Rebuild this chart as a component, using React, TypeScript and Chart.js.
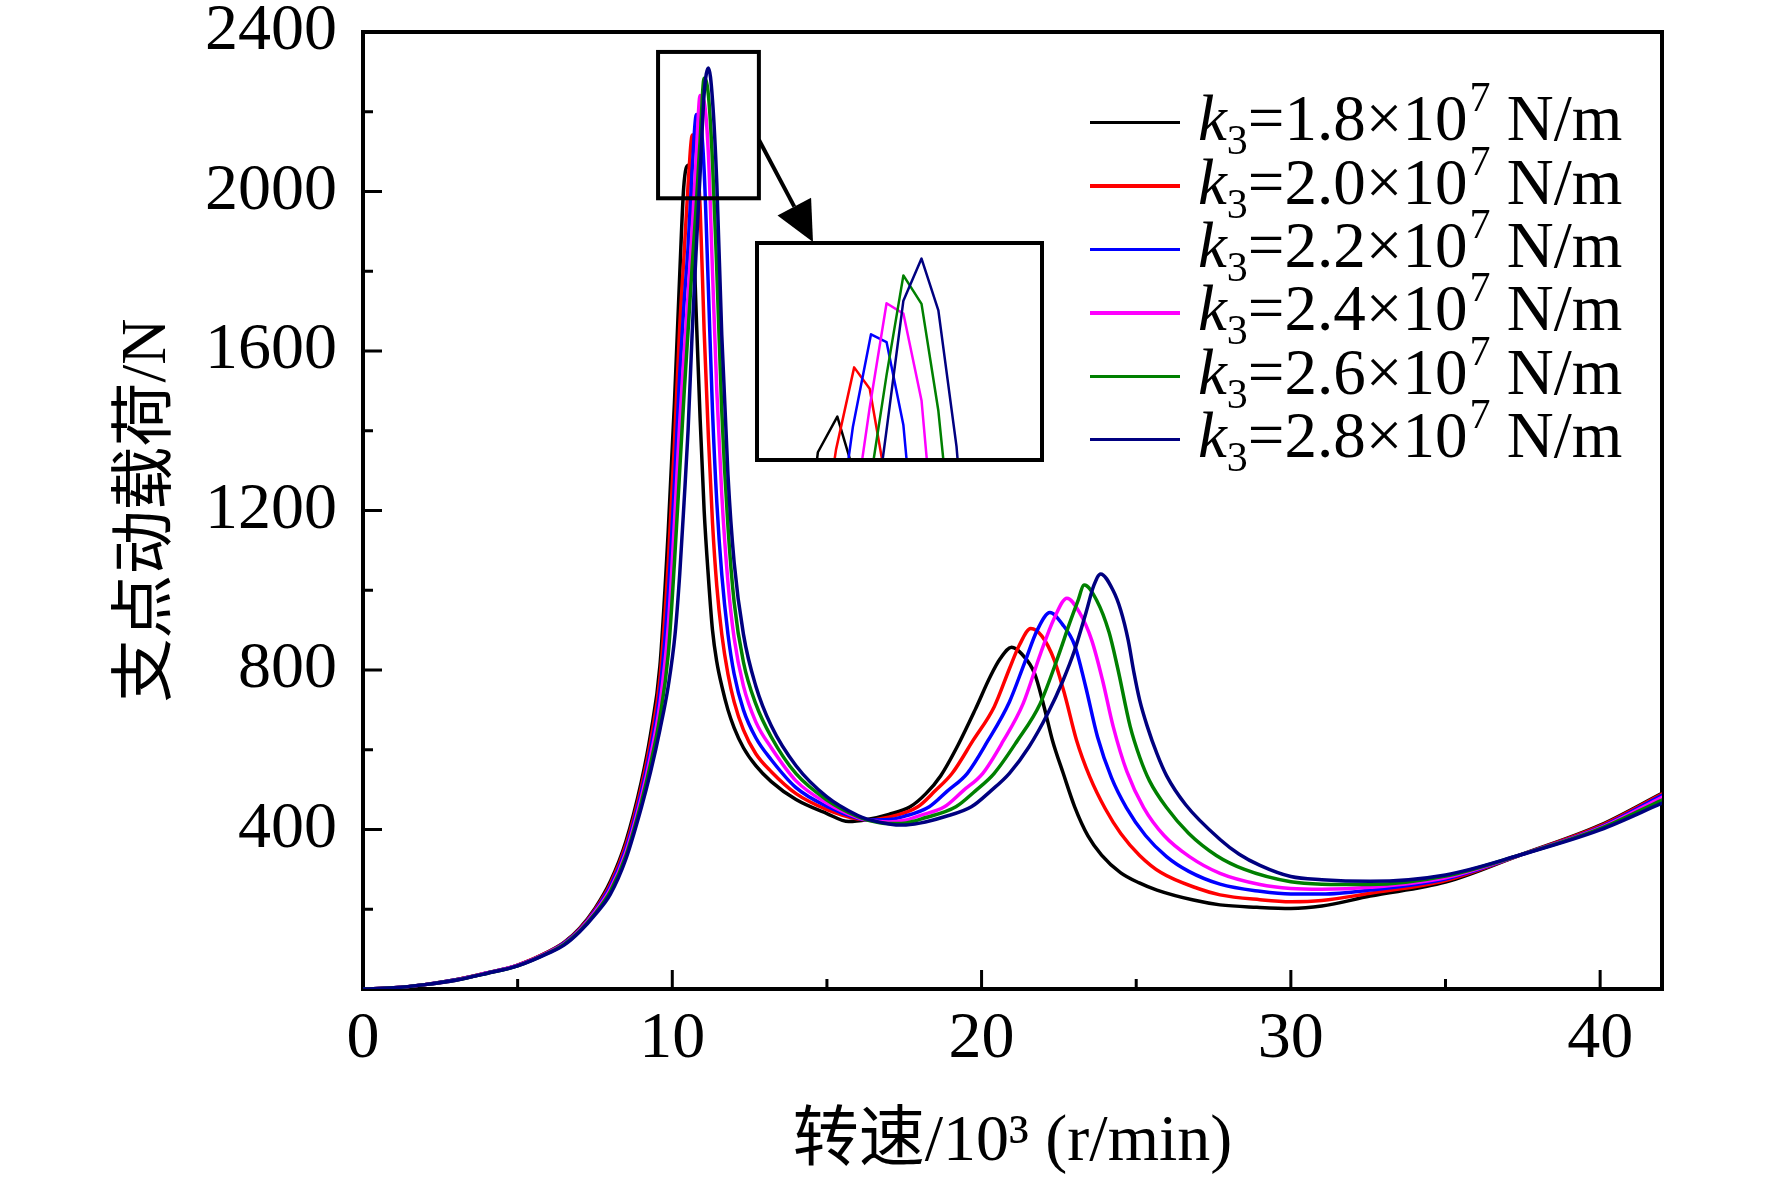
import { useEffect, useRef } from "react";
import { Chart, registerables } from "chart.js";

Chart.register(...registerables);

// k3 values (x10^7 N/m), one curve each
const stiffnessLabels = ["1.8", "2.0", "2.2", "2.4", "2.6", "2.8"];
const lineColors = ["#000000", "#ff0000", "#0000ff", "#ff00ff", "#008000", "#000080"];

// 转速 in 10^3 r/min, 支点动载荷 in N
const speedK18 = [0, 1, 2, 3, 4, 5, 6, 6.5, 7, 7.5, 8, 8.5, 9, 9.3, 9.6, 9.87, 10.07, 10.24, 10.37, 10.52, 10.64, 10.77, 10.9, 11.03, 11.17, 11.3, 11.44, 11.6, 11.8, 12, 12.3, 12.7, 13.2, 14, 15, 15.7, 16.3, 17, 17.69, 18.2, 18.68, 19.24, 19.79, 20.29, 20.6, 20.97, 21.3, 21.71, 22.02, 22.29, 22.64, 23.01, 23.44, 23.88, 24.49, 25.1, 25.67, 26.85, 27.71, 28.9, 30, 31, 32.56, 35, 37.41, 40, 42];
const loadK18 = [0, 3, 11, 23, 40, 60, 94, 117, 152, 202, 270, 370, 520, 640, 810, 1150, 1470, 1790, 2011, 2066, 1985, 1700, 1430, 1200, 1030, 900, 820, 760, 700, 655, 605, 560, 520, 475, 440, 420, 425, 438, 457, 490, 535, 612, 700, 785, 828, 857, 840, 792, 708, 624, 541, 457, 384, 336, 292, 266, 248, 223, 211, 205, 202, 208, 233, 268, 336, 411, 491];

const speedK20 = [0, 1, 2, 3, 4, 5, 6, 6.5, 7, 7.5, 8, 8.5, 9, 9.3, 9.6, 9.87, 10.07, 10.24, 10.38, 10.51, 10.65, 10.77, 10.9, 11.03, 11.17, 11.3, 11.44, 11.6, 11.8, 12, 12.3, 12.7, 13.2, 14, 15, 16, 16.3, 17, 17.94, 18.5, 19.05, 19.73, 20.41, 20.91, 21.22, 21.59, 21.95, 22.35, 22.7, 23.07, 23.5, 24, 24.5, 25.11, 25.8, 27, 27.71, 29, 30, 31, 32.56, 35, 37.41, 40, 42];
const loadK20 = [0, 3, 11, 23, 40, 60, 93, 116, 150, 199, 264, 361, 507, 622, 778, 1070, 1370, 1660, 1840, 2015, 2142, 2109, 1960, 1650, 1380, 1170, 1010, 890, 790, 720, 650, 590, 545, 490, 450, 426, 424, 431, 457, 497, 541, 624, 708, 805, 862, 904, 885, 825, 735, 624, 532, 452, 390, 335, 292, 252, 236, 224, 219, 222, 240, 272, 336, 409, 489];

const speedK22 = [0, 1, 2, 3, 4, 5, 6, 6.5, 7, 7.5, 8, 8.5, 9, 9.3, 9.6, 9.87, 10.07, 10.24, 10.38, 10.51, 10.64, 10.78, 10.9, 11.03, 11.17, 11.3, 11.44, 11.6, 11.8, 12, 12.3, 12.7, 13.2, 14, 15, 16, 16.3, 17, 17.5, 18.31, 18.9, 19.54, 20.2, 20.9, 21.4, 21.8, 22.21, 22.61, 23.01, 23.36, 23.75, 24.2, 24.68, 25.3, 25.98, 26.7, 27.71, 29, 30, 31, 32.56, 35, 37.41, 40, 42];
const loadK22 = [0, 3, 11, 23, 40, 59, 92, 115, 148, 196, 258, 352, 494, 603, 746, 990, 1270, 1540, 1720, 1860, 2050, 2193, 2181, 2053, 1750, 1450, 1220, 1040, 890, 790, 700, 630, 575, 505, 458, 428, 424, 425, 433, 457, 497, 541, 622, 720, 820, 900, 944, 915, 862, 760, 632, 530, 455, 385, 332, 295, 263, 245, 238, 238, 248, 276, 336, 406, 486];

const speedK24 = [0, 1, 2, 3, 4, 5, 6, 6.5, 7, 7.5, 8, 8.5, 9, 9.3, 9.6, 9.87, 10.07, 10.24, 10.38, 10.51, 10.64, 10.77, 10.9, 11.03, 11.17, 11.3, 11.44, 11.6, 11.8, 12, 12.3, 12.7, 13.2, 14, 15, 16, 16.3, 17, 17.5, 18, 18.8, 19.4, 20.04, 20.7, 21.34, 21.9, 22.35, 22.76, 23.16, 23.56, 23.91, 24.25, 24.7, 25.24, 25.9, 26.72, 27.71, 29, 30, 31, 32.56, 35, 37.41, 40, 42];
const loadK24 = [0, 3, 11, 22, 40, 59, 92, 113, 147, 193, 251, 343, 481, 584, 714, 910, 1170, 1420, 1590, 1740, 1900, 2080, 2241, 2225, 2091, 1800, 1500, 1240, 1020, 880, 760, 670, 605, 522, 466, 430, 424, 419, 423, 435, 457, 497, 541, 622, 715, 840, 930, 980, 945, 875, 775, 660, 545, 455, 385, 332, 290, 262, 252, 250, 255, 279, 336, 404, 481];

const speedK26 = [0, 1, 2, 3, 4, 5, 6, 6.5, 7, 7.5, 8, 8.5, 9, 9.3, 9.6, 9.87, 10.07, 10.24, 10.38, 10.51, 10.64, 10.77, 10.9, 11.03, 11.17, 11.3, 11.44, 11.6, 11.8, 12, 12.3, 12.7, 13.2, 14, 15, 16, 16.3, 17, 17.5, 18.2, 19.17, 19.8, 20.41, 21.15, 21.89, 22.48, 22.85, 23.1, 23.32, 23.72, 24.12, 24.4, 24.8, 25.12, 25.43, 25.98, 26.7, 27.59, 28.5, 30, 31, 32.56, 35, 37.41, 40, 42];
const loadK26 = [0, 3, 11, 22, 39, 58, 91, 112, 145, 189, 245, 334, 468, 565, 682, 840, 1070, 1300, 1490, 1650, 1810, 1960, 2130, 2284, 2240, 2075, 1800, 1450, 1160, 970, 820, 715, 632, 540, 474, 432, 424, 415, 416, 430, 457, 497, 541, 622, 715, 835, 918, 970, 1013, 975, 895, 805, 660, 580, 522, 455, 390, 335, 300, 269, 263, 262, 283, 336, 402, 474];

const speedK28 = [0, 1, 2, 3, 4, 5, 6, 6.5, 7, 7.5, 8, 8.5, 9, 9.3, 9.6, 9.87, 10.09, 10.24, 10.38, 10.51, 10.64, 10.77, 10.9, 11.03, 11.17, 11.3, 11.44, 11.6, 11.8, 12, 12.3, 12.7, 13.2, 14, 15, 16, 16.3, 17, 17.44, 18, 18.8, 19.67, 20.3, 20.9, 21.53, 22.14, 22.64, 23.01, 23.38, 23.63, 23.85, 24.25, 24.5, 24.74, 24.93, 25.11, 25.36, 25.67, 25.98, 26.6, 27.71, 28.33, 29, 30, 31, 32.56, 35, 37.41, 40, 42];
const loadK28 = [0, 3, 11, 22, 39, 58, 90, 110, 143, 186, 238, 326, 455, 545, 650, 760, 890, 1040, 1220, 1400, 1640, 1850, 2045, 2245, 2310, 2230, 2020, 1640, 1290, 1070, 890, 760, 660, 560, 482, 435, 426, 414, 411, 416, 432, 457, 497, 541, 607, 691, 775, 850, 945, 1012, 1041, 1000, 950, 875, 792, 725, 658, 590, 535, 462, 375, 338, 310, 282, 274, 270, 286, 336, 399, 466];

const speedSets = [speedK18, speedK20, speedK22, speedK24, speedK26, speedK28];
const loadSets = [loadK18, loadK20, loadK22, loadK24, loadK26, loadK28];

const xTickValues = [0, 10, 20, 30, 40];
const xMinorValues = [5, 15, 25, 35];
const yTickValues = [400, 800, 1200, 1600, 2000, 2400];
const yMinorValues = [200, 600, 1000, 1400, 1800, 2200];

// zoomed window shown in the inset, and the frame drawn round it on the main plot
const insetRangeX = [9.9, 12.1];
const insetRangeY = [1999, 2334];
const zoomBoxX = [9.54, 12.8];
const zoomBoxY = [1983, 2350];

const serif = '"Liberation Serif", "Times New Roman", "Noto Sans CJK SC", serif';

function buildDatasets(smooth: boolean, width: number) {
  return speedSets.map((xs, i) => ({
    label: "k3=" + stiffnessLabels[i],
    data: xs.map((x, j) => ({ x, y: loadSets[i][j] })),
    borderColor: lineColors[i],
    backgroundColor: lineColors[i],
    borderWidth: width,
    pointRadius: 0,
    fill: false,
    order: 5 - i,
    cubicInterpolationMode: smooth ? ("monotone" as const) : ("default" as const),
    tension: 0,
    borderJoinStyle: "round" as const,
    borderCapStyle: "round" as const,
    clip: smooth ? undefined : 0,
  }));
}

const axesPlugin = {
  id: "axesFrame",
  beforeDatasetsDraw(chart: any) {
    const { ctx, chartArea, scales } = chart;
    const { left, right, top, bottom } = chartArea;
    ctx.save();
    ctx.strokeStyle = "#000";
    ctx.lineCap = "butt";
    ctx.lineWidth = 3;
    ctx.beginPath();
    xTickValues.concat(xMinorValues).forEach((v) => {
      const px = scales.x.getPixelForValue(v);
      const len = xTickValues.includes(v) ? 19 : 10;
      ctx.moveTo(px, bottom);
      ctx.lineTo(px, bottom - len);
    });
    yTickValues.concat(yMinorValues).forEach((v) => {
      const py = scales.y.getPixelForValue(v);
      const len = yTickValues.includes(v) ? 19 : 10;
      ctx.moveTo(left, py);
      ctx.lineTo(left + len, py);
    });
    ctx.stroke();
    ctx.lineWidth = 4;
    ctx.strokeRect(left, top, right - left, bottom - top);
    ctx.restore();
  },
  afterDatasetsDraw(chart: any) {
    const { ctx, scales } = chart;
    const x0 = scales.x.getPixelForValue(zoomBoxX[0]);
    const x1 = scales.x.getPixelForValue(zoomBoxX[1]);
    const y0 = scales.y.getPixelForValue(zoomBoxY[1]);
    const y1 = scales.y.getPixelForValue(zoomBoxY[0]);
    ctx.save();
    ctx.strokeStyle = "#000";
    ctx.fillStyle = "#000";
    ctx.lineWidth = 4;
    ctx.strokeRect(x0, y0, x1 - x0, y1 - y0);
    // arrow from the zoom box to the inset
    const sx = x1;
    const sy = y0 + (y1 - y0) * 0.6;
    const tx = 813;
    const ty = 242;
    const ang = Math.atan2(ty - sy, tx - sx);
    const head = 40;
    const half = 19;
    const bx = tx - head * Math.cos(ang);
    const by = ty - head * Math.sin(ang);
    ctx.beginPath();
    ctx.moveTo(sx, sy);
    ctx.lineTo(bx, by);
    ctx.stroke();
    ctx.beginPath();
    ctx.moveTo(tx, ty);
    ctx.lineTo(bx + half * Math.sin(ang), by - half * Math.cos(ang));
    ctx.lineTo(bx - half * Math.sin(ang), by + half * Math.cos(ang));
    ctx.closePath();
    ctx.fill();
    ctx.restore();
  },
};

const insetFramePlugin = {
  id: "insetFrame",
  afterDatasetsDraw(chart: any) {
    const { ctx, chartArea } = chart;
    ctx.save();
    ctx.strokeStyle = "#000";
    ctx.lineWidth = 4;
    ctx.strokeRect(chartArea.left, chartArea.top, chartArea.right - chartArea.left, chartArea.bottom - chartArea.top);
    ctx.restore();
  },
};

function LegendRow({ label, color }: { label: string; color: string }) {
  return (
    <div style={{ display: "flex", alignItems: "center", height: 63.4 }}>
      <div style={{ width: 90, height: 3.5, background: color, marginRight: 18 }} />
      <span style={{ fontFamily: serif, fontSize: 65, lineHeight: "63px", whiteSpace: "nowrap", color: "#000" }}>
        <i>k</i>
        <span style={{ fontSize: 42, position: "relative", top: 14 }}>3</span>
        ={label}×10
        <span style={{ fontSize: 42, position: "relative", top: -29, marginLeft: 2 }}>7</span> N/m
      </span>
    </div>
  );
}

export default function App() {
  const mainRef = useRef<HTMLCanvasElement>(null);
  const insetRef = useRef<HTMLCanvasElement>(null);

  useEffect(() => {
    if (!mainRef.current || !insetRef.current) return;

    const main = new Chart(mainRef.current, {
      type: "line",
      data: { datasets: buildDatasets(true, 3.5) as any },
      options: {
        animation: false,
        responsive: false,
        layout: { padding: { top: 32, right: 110, left: 0, bottom: 0 } },
        plugins: { legend: { display: false }, tooltip: { enabled: false } },
        scales: {
          x: {
            type: "linear",
            min: 0,
            max: 42,
            grid: { display: false },
            border: { display: false },
            afterBuildTicks: (s: any) => {
              s.ticks = xTickValues.map((v) => ({ value: v }));
            },
            afterFit: (s: any) => {
              s.height = 1182 - 989;
            },
            ticks: {
              color: "#000",
              padding: 13,
              maxRotation: 0,
              autoSkip: false,
              font: { family: serif, size: 66, lineHeight: 0.9 },
              callback: (v: any) => String(v),
            },
            title: {
              display: true,
              text: "转速/10³ (r/min)",
              color: "#000",
              font: { family: serif, size: 66 },
              padding: { top: 0, bottom: 0 },
            },
          },
          y: {
            type: "linear",
            min: 0,
            max: 2400,
            grid: { display: false },
            border: { display: false },
            afterBuildTicks: (s: any) => {
              s.ticks = yTickValues.map((v) => ({ value: v }));
            },
            afterFit: (s: any) => {
              s.width = 363;
            },
            ticks: {
              color: "#000",
              padding: 18,
              autoSkip: false,
              font: { family: serif, size: 66, lineHeight: 0.1 },
              callback: (v: any) => String(v),
            },
            title: {
              display: true,
              text: "支点动载荷/N",
              color: "#000",
              font: { family: serif, size: 64 },
              padding: { top: 110, bottom: 0 },
            },
          },
        },
      },
      plugins: [axesPlugin],
    });

    const inset = new Chart(insetRef.current, {
      type: "line",
      data: { datasets: buildDatasets(false, 2.5) as any },
      options: {
        animation: false,
        responsive: false,
        layout: { padding: 2 },
        plugins: { legend: { display: false }, tooltip: { enabled: false } },
        scales: {
          x: { type: "linear", display: false, min: insetRangeX[0], max: insetRangeX[1] },
          y: { type: "linear", display: false, min: insetRangeY[0], max: insetRangeY[1] },
        },
      },
      plugins: [insetFramePlugin],
    });

    return () => {
      main.destroy();
      inset.destroy();
    };
  }, []);

  return (
    <div style={{ position: "absolute", left: 0, top: 0, width: 1772, height: 1182, background: "#fff", overflow: "hidden" }}>
      <canvas ref={mainRef} width={1772} height={1182} style={{ position: "absolute", left: 0, top: 0 }} />
      <canvas
        ref={insetRef}
        width={289}
        height={221}
        style={{ position: "absolute", left: 755, top: 241, background: "#fff" }}
      />
      <div style={{ position: "absolute", left: 1090, top: 91 }}>
        {stiffnessLabels.map((label, i) => (
          <LegendRow key={label} label={label} color={lineColors[i]} />
        ))}
      </div>
    </div>
  );
}
